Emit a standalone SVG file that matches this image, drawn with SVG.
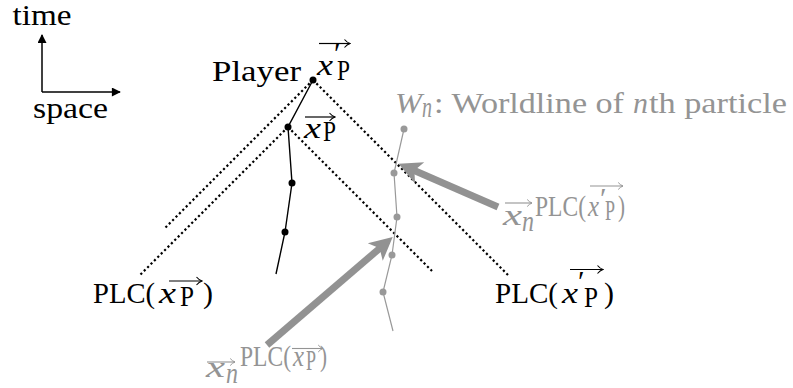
<svg xmlns="http://www.w3.org/2000/svg" width="793" height="388" viewBox="0 0 793 388">
<style>
.t{font-family:"Liberation Serif",serif;font-size:30px;fill:#000}
.g{fill:#949494}
.i{font-style:italic}
.dot{stroke:#000;stroke-width:2.2;stroke-dasharray:2.2 2.6;fill:none}
.wl{stroke:#000;stroke-width:1.4;fill:none}
.gl{stroke:#999;stroke-width:1.2;fill:none}
.vb{stroke:#000;stroke-width:1.2;fill:none;marker-end:url(#vhb)}
.vg{stroke:#949494;stroke-width:1.1;fill:none;marker-end:url(#vhg)}
.ga{stroke:#929292;stroke-width:7;fill:none;marker-end:url(#gah)}
</style>
<defs>
<marker id="axh" viewBox="0 0 10 10" refX="9" refY="5" markerWidth="10" markerHeight="9" markerUnits="userSpaceOnUse" orient="auto"><path d="M0,0 L10,5 L0,10 z" fill="#000"/></marker>
<marker id="gah" viewBox="0 0 10 10" refX="4.2" refY="5" markerWidth="27" markerHeight="23" markerUnits="userSpaceOnUse" orient="auto"><path d="M0,0 L10,5 L0,10 L2.5,5 z" fill="#929292"/></marker>
<marker id="vhb" viewBox="0 0 8 10" refX="7" refY="5" markerWidth="8" markerHeight="10" markerUnits="userSpaceOnUse" orient="auto"><path d="M1.5,1 Q4,4 7,5 Q4,6 1.5,9" fill="none" stroke="#000" stroke-width="1.1"/></marker>
<marker id="vhg" viewBox="0 0 8 10" refX="7" refY="5" markerWidth="7" markerHeight="9" markerUnits="userSpaceOnUse" orient="auto"><path d="M1.5,1 Q4,4 7,5 Q4,6 1.5,9" fill="none" stroke="#949494" stroke-width="1.1"/></marker>
</defs>

<g id="axes">
<path d="M42,92 L42,35" stroke="#000" stroke-width="1.5" marker-end="url(#axh)"/>
<path d="M42,92 L120,92" stroke="#000" stroke-width="1.5" marker-end="url(#axh)"/>
<text class="t" x="12.5" y="24.5" font-size="28" textLength="59" lengthAdjust="spacingAndGlyphs">time</text>
<text class="t" x="33" y="118" textLength="75" lengthAdjust="spacingAndGlyphs">space</text>
</g>

<g id="connectors">
<path class="dot" d="M313,80 L164,229"/>
<path class="dot" d="M313,80 L508,275"/>
<path class="dot" d="M288,127 L139,276"/>
<path class="dot" d="M288,127 L432,271"/>
<path class="ga" d="M498,207 L410.8,169"/>
<path class="ga" d="M267,345 L382.6,245.8"/>
</g>

<g id="player-worldline">
<polyline class="wl" points="313,80 288,127 292,183 285,232 276,274"/>
<circle cx="313" cy="80" r="3.5"/>
<circle cx="288" cy="127" r="3.5"/>
<circle cx="292" cy="183" r="3.5"/>
<circle cx="285" cy="232" r="3.5"/>
</g>

<g id="particle-worldline">
<polyline class="gl" points="404,129 394,173 397,217 392,255 383,292 393,331"/>
<g fill="#999">
<circle cx="404" cy="129" r="3.5"/>
<circle cx="394" cy="173" r="3.5"/>
<circle cx="397" cy="217" r="3.5"/>
<circle cx="392" cy="255" r="3.5"/>
<circle cx="383" cy="292" r="3.5"/>
</g>
</g>

<g id="player-label">
<text class="t" x="212" y="81" textLength="89" lengthAdjust="spacingAndGlyphs">Player</text>
<path class="vb" d="M319,43.5 L350,43.5"/>
<text class="t i" x="317" y="75" textLength="16" lengthAdjust="spacingAndGlyphs">x</text>
<text class="t" x="334" y="63" font-size="20">′</text>
<text class="t" x="337" y="80" font-size="20" textLength="13" lengthAdjust="spacingAndGlyphs">P</text>
</g>

<g id="xp-label">
<path class="vb" d="M305,117 L335,117"/>
<text class="t i" x="304" y="138" textLength="17" lengthAdjust="spacingAndGlyphs">x</text>
<text class="t" x="323" y="141" font-size="20" textLength="13" lengthAdjust="spacingAndGlyphs">P</text>
</g>

<g id="worldline-label">
<text class="t g i" x="395" y="113" textLength="27" lengthAdjust="spacingAndGlyphs">W</text>
<text class="t g i" x="422" y="117" font-size="20" textLength="10" lengthAdjust="spacingAndGlyphs">n</text>
<text class="t g" x="434" y="113" textLength="190" lengthAdjust="spacingAndGlyphs">: Worldline of</text>
<text class="t g i" x="633" y="113" textLength="15" lengthAdjust="spacingAndGlyphs">n</text>
<text class="t g" x="649" y="113" textLength="138" lengthAdjust="spacingAndGlyphs">th particle</text>
</g>

<g id="plc-xp">
<text class="t" x="93" y="303" textLength="62" lengthAdjust="spacingAndGlyphs">PLC(</text>
<path class="vb" d="M169,281 L202,281"/>
<text class="t i" x="159" y="303" textLength="17" lengthAdjust="spacingAndGlyphs">x</text>
<text class="t" x="180" y="306" font-size="20" textLength="14" lengthAdjust="spacingAndGlyphs">P</text>
<text class="t" x="203" y="303" textLength="10" lengthAdjust="spacingAndGlyphs">)</text>
</g>

<g id="plc-xp-prime">
<text class="t" x="495" y="303" textLength="63" lengthAdjust="spacingAndGlyphs">PLC(</text>
<path class="vb" d="M570,269.5 L603,269.5"/>
<text class="t i" x="562" y="303" textLength="16" lengthAdjust="spacingAndGlyphs">x</text>
<text class="t" x="578" y="291" font-size="20">′</text>
<text class="t" x="584" y="307" font-size="20" textLength="14" lengthAdjust="spacingAndGlyphs">P</text>
<text class="t" x="604" y="303" textLength="10" lengthAdjust="spacingAndGlyphs">)</text>
</g>

<g id="xn-plc-xp-prime">
<path class="vg" d="M505,203 L532,203"/>
<text class="t g i" x="503" y="225" textLength="19" lengthAdjust="spacingAndGlyphs">x</text>
<text class="t g i" x="522" y="231" font-size="20" textLength="12" lengthAdjust="spacingAndGlyphs">n</text>
<text class="t g" x="535" y="216" font-size="18" textLength="51" lengthAdjust="spacingAndGlyphs">PLC(</text>
<path class="vg" d="M590,186 L623,186"/>
<text class="t g i" x="588" y="216" font-size="18" textLength="11" lengthAdjust="spacingAndGlyphs">x</text>
<text class="t g" x="600" y="208" font-size="13">′</text>
<text class="t g" x="605" y="220" font-size="13" textLength="10" lengthAdjust="spacingAndGlyphs">P</text>
<text class="t g" x="618" y="216" font-size="18" textLength="7" lengthAdjust="spacingAndGlyphs">)</text>
</g>

<g id="xn-plc-xp">
<path class="vg" d="M207,362 L235,362"/>
<text class="t g i" x="206" y="377" textLength="19" lengthAdjust="spacingAndGlyphs">x</text>
<text class="t g i" x="226" y="383" font-size="20" textLength="12" lengthAdjust="spacingAndGlyphs">n</text>
<text class="t g" x="240" y="366" font-size="18" textLength="51" lengthAdjust="spacingAndGlyphs">PLC(</text>
<path class="vg" d="M292,348.5 L323,348.5"/>
<text class="t g i" x="293" y="366" font-size="18" textLength="11" lengthAdjust="spacingAndGlyphs">x</text>
<text class="t g" x="306" y="370" font-size="13" textLength="10" lengthAdjust="spacingAndGlyphs">P</text>
<text class="t g" x="320" y="366" font-size="18" textLength="7" lengthAdjust="spacingAndGlyphs">)</text>
</g>
</svg>
